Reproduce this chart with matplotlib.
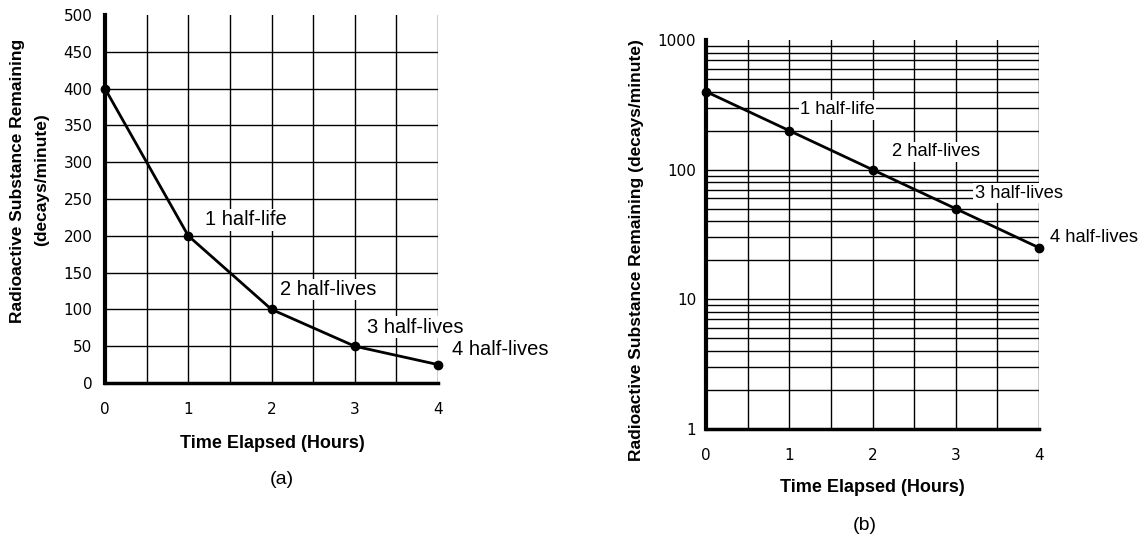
import matplotlib
matplotlib.use("Agg")
import matplotlib.pyplot as plt
from matplotlib.ticker import MultipleLocator, LogLocator, NullFormatter, FixedLocator

plt.rcParams['font.family'] = ['Liberation Sans', 'DejaVu Sans']

# Data
hours = [0, 1, 2, 3, 4]
activity = [400, 200, 100, 50, 25]
labels = ["1 half-life", "2 half-lives", "3 half-lives", "4 half-lives"]
# label anchor positions (x, y)
lin_label_pos = [(1.2, 222), (2.1, 127), (3.15, 76), (4.17, 45)]
log_label_pos = [(1.13, 290), (2.23, 137), (3.23, 66), (4.13, 30)]
xticks = [0, 1, 2, 3, 4]
lin_yticks = [0, 50, 100, 150, 200, 250, 300, 350, 400, 450, 500]
log_yticks = [1, 10, 100, 1000]

W, H = 1143, 538
fig = plt.figure(figsize=(W / 100, H / 100), dpi=100)

def frac(x0, x1, ytop, ybot):
    return [x0 / W, 1 - ybot / H, (x1 - x0) / W, (ybot - ytop) / H]

axa = fig.add_axes(frac(105, 438, 15, 383))
axb = fig.add_axes(frac(706, 1039, 40, 429))

grid_kw = dict(color='black', linewidth=1.0)
tick_font = dict(family='DejaVu Sans', size=11)

for ax, ypad in ((axa, 9), (axb, 7)):
    ax.set_xlim(0, 4)
    ax.set_xticks(xticks)
    ax.xaxis.set_minor_locator(MultipleLocator(0.5))
    ax.tick_params(which='both', length=0)
    ax.tick_params(axis='y', pad=ypad)
    ax.tick_params(axis='x', pad=14)
    for s in ('top', 'right'):
        ax.spines[s].set_visible(False)
    ax.spines['left'].set_linewidth(3)
    ax.spines['bottom'].set_linewidth(2.5)
    ax.set_axisbelow(True)

# Panel (a)
axa.set_ylim(0, 500)
axa.set_yticks(lin_yticks)
axa.grid(True, which='both', axis='x', **grid_kw)
axa.grid(True, which='major', axis='y', **grid_kw)
axa.yaxis.get_gridlines()[-1].set_visible(False)
axa.plot(hours, activity, color='black', linewidth=2, marker='o', markersize=6, zorder=5, clip_on=False)
for t, (x, y) in zip(labels, lin_label_pos):
    axa.text(x, y, t, fontsize=14.5, va='center', ha='left', zorder=4, clip_on=False,
             bbox=dict(facecolor='white', edgecolor='none', pad=1))
fig.text(272 / W, 1 - 443 / H, "Time Elapsed (Hours)", fontsize=13, fontweight='bold',
         ha='center', va='center')
fig.text(18 / W, 1 - 181 / H, "Radioactive Substance Remaining", rotation=90,
         fontsize=12.5, fontweight='bold', ha='center', va='center')
fig.text(42 / W, 1 - 180 / H, "(decays/minute)", rotation=90,
         fontsize=12.5, fontweight='bold', ha='center', va='center')
fig.text(282 / W, 1 - 480 / H, "(a)", fontsize=14, ha='center', va='center')

# Panel (b)
axb.set_yscale('log')
axb.set_ylim(1, 1000)
axb.yaxis.set_major_locator(FixedLocator(log_yticks))
axb.set_yticklabels([str(v) for v in log_yticks])
axb.yaxis.set_minor_locator(LogLocator(base=10, subs=range(2, 10)))
axb.yaxis.set_minor_formatter(NullFormatter())
axb.grid(True, which='both', axis='both', **grid_kw)
axb.yaxis.get_gridlines()[-1].set_visible(False)
axb.plot(hours, activity, color='black', linewidth=2, marker='o', markersize=6, zorder=5, clip_on=False)
for t, (x, y) in zip(labels, log_label_pos):
    axb.text(x, y, t, fontsize=13.2, va='center', ha='left', zorder=4, clip_on=False,
             bbox=dict(facecolor='white', edgecolor='none', pad=1))
fig.text(872 / W, 1 - 488 / H, "Time Elapsed (Hours)", fontsize=13, fontweight='bold',
         ha='center', va='center')
fig.text(637 / W, 1 - 250 / H, "Radioactive Substance Remaining (decays/minute)", rotation=90,
         fontsize=12.5, fontweight='bold', ha='center', va='center')
fig.text(865 / W, 1 - 525 / H, "(b)", fontsize=14, ha='center', va='center')

for ax in (axa, axb):
    for lab in ax.get_xticklabels() + ax.get_yticklabels():
        lab.set_fontfamily('DejaVu Sans')
        lab.set_fontsize(11)

fig.savefig("out.png", dpi=100)
